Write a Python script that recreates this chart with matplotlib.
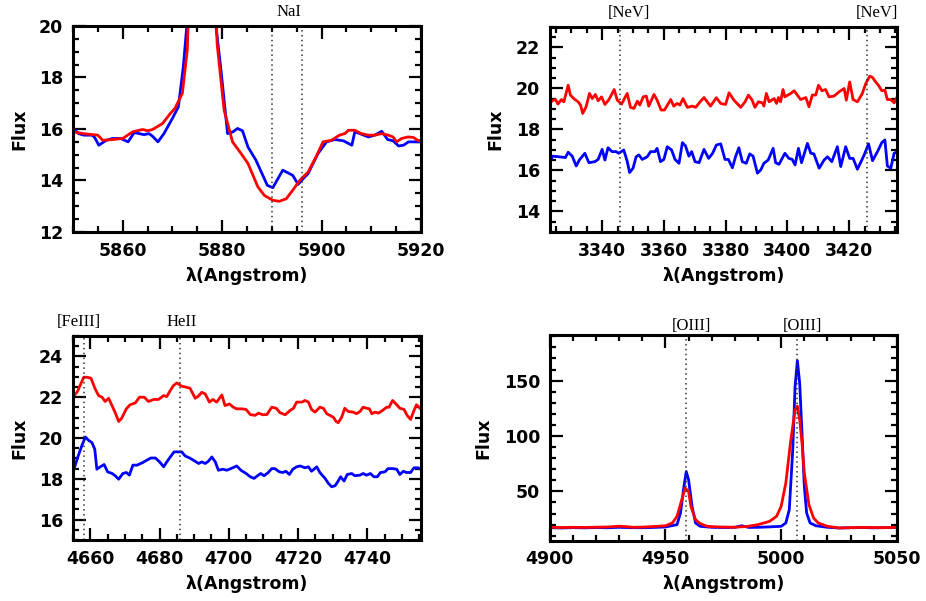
import matplotlib
matplotlib.use("Agg")
import matplotlib.pyplot as plt
from matplotlib.ticker import MultipleLocator

# ---- panel 1: NaI region ----
na_wave_red = [5850.1, 5852, 5854, 5855, 5856, 5858, 5860, 5862, 5864, 5865, 5866, 5868,
               5869.5, 5870.5, 5872, 5873, 5874, 5876, 5878, 5879, 5880.4, 5882.1, 5883.8,
               5885.2, 5887.2, 5888.5, 5890.2, 5891.5, 5892.9, 5894.2, 5895.6, 5897.3, 5898.9,
               5900.3, 5902, 5903.6, 5904.7, 5905.4, 5906.7, 5908, 5909.4, 5910.7, 5912.1,
               5913.4, 5914.4, 5915.1, 5916.1, 5917.4, 5918.5, 5919.5, 5920]
na_flux_red = [15.89, 15.82, 15.78, 15.76, 15.56, 15.59, 15.63, 15.89, 15.98, 15.93, 15.98, 16.21,
               16.58, 16.8, 17.38, 19.07, 26, 40, 25, 19.3, 16.73, 15.5, 15.05,
               14.66, 13.75, 13.42, 13.23, 13.19, 13.29, 13.62, 14.0, 14.33, 14.92,
               15.5, 15.56, 15.76, 15.82, 15.95, 15.95, 15.82, 15.76, 15.76, 15.82,
               15.76, 15.69, 15.5, 15.63, 15.69, 15.67, 15.54, 15.56]
na_wave_blue = [5850.1, 5851.1, 5852.2, 5853.8, 5854.3, 5855.2, 5856.7, 5857.9, 5859.6, 5861.1,
                5862.3, 5864.3, 5865.3, 5866, 5867.1, 5868.3, 5870, 5871.2, 5872.2, 5872.9,
                5874, 5876, 5878, 5878.75, 5879.7, 5881.1, 5882.2, 5883.1, 5884.1, 5885.2,
                5886.8, 5889.1, 5890.2, 5892.2, 5894.2, 5895.3, 5896.3, 5897.3, 5899.3, 5901,
                5902.7, 5904.4, 5906.1, 5906.7, 5907.7, 5909.4, 5910.7, 5912.1, 5913.3, 5914.4,
                5915.5, 5916.5, 5917.5, 5918.9, 5920]
na_flux_blue = [16.04, 15.82, 15.76, 15.76, 15.69, 15.37, 15.56, 15.63, 15.63, 15.5,
                15.86, 15.78, 15.82, 15.72, 15.5, 15.82, 16.41, 16.86, 18.42, 20.0,
                26, 40, 25, 20.0, 18.42, 15.82, 15.89, 16.02, 15.93, 15.3,
                14.79, 13.81, 13.72, 14.4, 14.2, 13.85, 14.07, 14.27, 15.05, 15.5,
                15.59, 15.54, 15.37, 15.89, 15.82, 15.69, 15.76, 15.91, 15.59, 15.54,
                15.34, 15.37, 15.5, 15.5, 15.5]

# ---- panel 2: [NeV] region ----
ne_wave_red = [3322.9, 3323.8, 3324.9, 3325.7, 3326.8, 3327.6, 3329.0, 3329.7, 3330.8, 3332.2,
               3333.0, 3333.7, 3334.8, 3335.9, 3336.8, 3337.8, 3338.7, 3339.8, 3340.9, 3342.2,
               3343.9, 3344.9, 3346.3, 3348.1, 3349.2, 3350.3, 3351.4, 3352.2, 3353.3, 3354.3,
               3355.1, 3356.8, 3357.8, 3359.1, 3360.2, 3362.2, 3363.2, 3364.3, 3365.2, 3366.2,
               3367.6, 3369.2, 3370.3, 3371.9, 3373.0, 3375.1, 3377.0, 3378.4, 3380.0, 3381.1,
               3382.7, 3384.9, 3386.3, 3387.4, 3388.6, 3389.5, 3390.6, 3391.9, 3392.4, 3393.2,
               3394.1, 3395.7, 3396.5, 3397.1, 3397.8, 3398.6, 3399.2, 3401.1, 3402.2, 3404.3,
               3406.0, 3407.0, 3408.1, 3409.2, 3410.1, 3411.2, 3412.4, 3413.5, 3415.1, 3416.8,
               3418.4, 3419.1, 3420.2, 3421.3, 3422.7, 3424.3, 3425.4, 3426.7, 3427.6, 3428.6,
               3429.5, 3430.6, 3431.6, 3432.4, 3433.5, 3434.6, 3435.7]
ne_flux_red = [19.24, 19.40, 19.46, 19.24, 19.46, 19.35, 20.16, 19.68, 19.51, 19.35,
               19.19, 18.78, 19.11, 19.76, 19.51, 19.71, 19.40, 19.59, 19.22, 19.46,
               19.95, 19.43, 19.24, 19.76, 19.08, 19.03, 19.38, 19.19, 19.59, 19.63,
               19.14, 19.71, 19.43, 18.95, 18.95, 19.46, 19.14, 19.27, 19.19, 19.51,
               19.08, 19.14, 19.08, 19.38, 19.56, 19.14, 19.55, 19.27, 19.22, 19.79,
               19.43, 19.08, 19.35, 19.68, 19.43, 19.08, 19.35, 19.30, 19.14, 19.76,
               19.35, 19.51, 19.27, 19.56, 19.35, 19.95, 19.59, 19.76, 19.89, 19.46,
               19.56, 19.11, 19.68, 19.68, 20.16, 19.89, 19.95, 19.59, 19.63, 19.84,
               20.0, 19.43, 20.32, 19.46, 19.35, 19.76, 20.24, 20.60, 20.54, 20.32,
               20.16, 19.89, 19.92, 19.46, 19.46, 19.30, 19.63]
ne_wave_blue = [3322.9, 3324.0, 3325.9, 3328.1, 3329.0, 3330.3, 3331.6, 3332.6, 3334.4, 3335.7,
                3337.6, 3338.7, 3340.0, 3340.9, 3341.9, 3343.2, 3344.5, 3345.4, 3347.0, 3348.1,
                3348.9, 3350.0, 3351.0, 3351.9, 3353.0, 3354.6, 3355.7, 3357.1, 3357.8, 3358.9,
                3360.0, 3361.1, 3362.5, 3363.6, 3364.9, 3366.0, 3367.0, 3368.1, 3369.0, 3370.1,
                3371.4, 3373.0, 3374.5, 3375.8, 3377.0, 3378.4, 3379.8, 3380.9, 3382.2, 3383.2,
                3384.3, 3385.4, 3386.7, 3387.8, 3388.9, 3390.3, 3391.4, 3392.4, 3393.8, 3395.4,
                3396.2, 3397.3, 3399.2, 3400.5, 3401.6, 3402.5, 3403.6, 3404.6, 3406.5, 3407.6,
                3408.6, 3410.3, 3411.9, 3413.0, 3414.4, 3416.2, 3417.3, 3418.9, 3420.2, 3421.3,
                3422.7, 3424.9, 3426.3, 3427.6, 3429.2, 3430.6, 3431.6, 3432.4, 3433.5, 3434.6,
                3435.7]
ne_flux_blue = [16.38, 16.70, 16.67, 16.63, 16.89, 16.70, 16.22, 16.51, 16.84, 16.38,
                16.43, 16.54, 17.03, 16.51, 17.11, 16.92, 16.92, 16.84, 17.0, 16.46,
                15.90, 16.11, 16.67, 16.76, 16.54, 16.67, 16.92, 16.92, 17.08, 16.43,
                16.54, 17.16, 17.0, 16.54, 16.35, 17.36, 17.2, 16.70, 16.92, 16.43,
                16.38, 17.03, 16.59, 16.84, 17.24, 17.30, 16.54, 16.54, 16.13, 16.67,
                17.11, 16.43, 16.35, 16.81, 16.70, 15.87, 16.03, 16.35, 16.51, 17.08,
                16.38, 16.30, 16.84, 16.59, 16.54, 16.27, 17.08, 16.38, 17.32, 16.84,
                16.81, 16.11, 16.51, 16.67, 16.43, 17.16, 16.19, 17.16, 16.59, 16.59,
                16.06, 16.76, 17.30, 16.48, 16.92, 17.36, 17.49, 16.22, 16.11, 16.84,
                16.92]

# ---- panel 3: [FeIII] / HeII region ----
he_wave_red = [4655.2, 4656.3, 4658.1, 4659.0, 4660.2, 4661.4, 4662.4, 4663.4, 4664.3, 4665.3,
               4666.7, 4667.2, 4668.2, 4669.1, 4670.4, 4671.5, 4673.0, 4674.2, 4675.6, 4676.8,
               4678.3, 4679.7, 4681.2, 4682.1, 4683.1, 4684.0, 4685.0, 4686.4, 4687.7, 4688.8,
               4690.3, 4691.2, 4692.2, 4693.2, 4694.4, 4695.4, 4696.5, 4698.0, 4698.9, 4700.2,
               4701.3, 4702.3, 4703.8, 4705.0, 4706.2, 4707.6, 4708.6, 4709.8, 4711.0, 4712.4,
               4713.7, 4714.8, 4716.3, 4717.7, 4718.7, 4719.6, 4721.1, 4722.0, 4723.0, 4723.9,
               4724.9, 4726.3, 4727.3, 4728.3, 4729.2, 4730.2, 4731.0, 4731.6, 4732.6, 4733.5,
               4734.5, 4735.9, 4736.9, 4737.9, 4738.8, 4739.8, 4740.6, 4741.3, 4742.2, 4743.2,
               4744.4, 4745.6, 4746.3, 4747.3, 4748.5, 4749.4, 4750.6, 4751.5, 4752.5, 4753.3,
               4754.2, 4755.4]
he_flux_red = [22.05, 22.28, 22.98, 22.98, 22.93, 22.41, 22.08, 22.0, 21.79, 21.95,
               21.43, 21.24, 20.81, 20.98, 21.43, 21.63, 21.72, 22.0, 22.0, 21.79,
               21.89, 21.89, 22.08, 22.03, 22.33, 22.57, 22.70, 22.54, 22.49, 22.44,
               21.95, 22.05, 22.24, 22.16, 21.76, 21.89, 21.76, 22.11, 21.59, 21.67,
               21.51, 21.43, 21.43, 21.40, 21.15, 21.11, 21.22, 21.14, 21.15, 21.51,
               21.46, 21.24, 21.14, 21.35, 21.46, 21.76, 21.76, 21.84, 21.76, 21.40,
               21.27, 21.51, 21.46, 21.19, 21.11, 21.02, 20.81, 20.75, 21.02, 21.46,
               21.30, 21.27, 21.19, 21.30, 21.51, 21.46, 21.43, 21.19, 21.27, 21.22,
               21.35, 21.51, 21.51, 21.84, 21.63, 21.46, 21.40, 21.11, 20.91, 21.27,
               21.63, 21.43]
he_wave_blue = [4655.2, 4656.3, 4657.6, 4658.6, 4659.5, 4660.5, 4661.3, 4661.9, 4662.9, 4664.0,
                4665.0, 4666.3, 4667.2, 4668.2, 4669.4, 4670.4, 4671.3, 4672.3, 4673.5, 4675.2,
                4676.3, 4677.5, 4678.8, 4680.0, 4681.2, 4682.1, 4683.1, 4684.2, 4685.5, 4686.4,
                4687.4, 4688.7, 4689.8, 4691.3, 4692.2, 4693.2, 4694.1, 4695.1, 4696.1, 4697.0,
                4698.3, 4699.4, 4700.6, 4702.3, 4703.5, 4705.0, 4706.2, 4707.3, 4708.3, 4709.2,
                4710.2, 4711.4, 4712.4, 4713.3, 4714.6, 4715.6, 4716.5, 4717.5, 4718.5, 4719.6,
                4720.6, 4722.0, 4723.0, 4723.9, 4725.4, 4726.3, 4727.8, 4728.8, 4729.7, 4730.7,
                4731.6, 4732.3, 4733.3, 4734.2, 4735.5, 4736.4, 4737.9, 4738.8, 4739.8, 4740.9,
                4741.9, 4742.9, 4743.8, 4745.1, 4746.0, 4747.3, 4748.5, 4749.4, 4750.4, 4751.3,
                4752.5, 4753.5, 4754.7, 4755.4]
he_flux_blue = [18.42, 19.02, 19.64, 20.05, 19.89, 19.77, 19.45, 18.47, 18.59, 18.70,
                18.34, 18.26, 18.15, 17.98, 18.26, 18.31, 18.18, 18.67, 18.67, 18.80,
                18.91, 19.02, 19.02, 18.83, 18.59, 18.83, 19.07, 19.32, 19.32, 19.32,
                19.12, 19.02, 18.91, 18.75, 18.83, 18.75, 18.86, 19.07, 18.83, 18.42,
                18.47, 18.42, 18.50, 18.63, 18.42, 18.26, 18.10, 18.02, 18.15, 18.26,
                18.15, 18.31, 18.50, 18.50, 18.34, 18.31, 18.37, 18.21, 18.47, 18.59,
                18.63, 18.54, 18.59, 18.37, 18.59, 18.31, 18.02, 17.77, 17.61, 17.66,
                17.89, 18.10, 17.89, 18.21, 18.26, 18.15, 18.18, 18.26, 18.18, 18.26,
                18.10, 18.10, 18.31, 18.34, 18.50, 18.50, 18.47, 18.21, 18.37, 18.31,
                18.31, 18.54, 18.54, 18.47]

# ---- panel 4: [OIII] region ----
o3_wave_red = [4900, 4905, 4910, 4915, 4920, 4925, 4930, 4933, 4936, 4940, 4945, 4950, 4953,
               4955, 4957, 4958.5, 4960, 4961, 4963, 4965, 4968, 4972, 4976, 4980, 4985, 4990,
               4995, 4998, 5000, 5002, 5004, 5006, 5007, 5008, 5009, 5010, 5012, 5014, 5016,
               5020, 5025, 5030, 5035, 5040, 5045, 5050]
o3_flux_red = [17.6, 17.4, 17.6, 17.5, 17.7, 17.9, 18.6, 18.2, 17.6, 17.8, 18.3, 19.0, 21.5,
               27.5, 42.0, 53.0, 50.0, 36.5, 24.5, 21.0, 18.5, 18.0, 17.8, 17.7, 18.3, 20.0,
               23.0, 27.5, 36.5, 57.5, 93.5, 123.6, 127.0, 114.6, 93.5, 66.5, 38.0, 26.0, 21.5,
               18.5, 17.0, 17.3, 17.5, 17.4, 17.3, 17.6]
o3_wave_blue = [4900, 4905, 4910, 4915, 4920, 4925, 4930, 4935, 4940, 4945, 4950, 4955,
                4956.5, 4958, 4959, 4960, 4961.5, 4963, 4965, 4970, 4975, 4980, 4983, 4986,
                4990, 4995, 5000, 5002, 5003.5, 5005, 5006, 5007, 5008, 5009, 5010, 5011,
                5012.5, 5015, 5020, 5025, 5030, 5035, 5040, 5045, 5050]
o3_flux_blue = [17.2, 17.0, 17.3, 17.1, 17.4, 17.2, 17.6, 17.3, 17.2, 17.5, 17.9, 20.0,
                30.5, 54.5, 68.0, 60.5, 36.5, 21.5, 18.5, 17.6, 17.4, 17.6, 19.0, 17.5,
                17.6, 18.0, 18.5, 21.5, 33.5, 87.5, 144.6, 168.0, 147.6, 102.5, 54.5, 30.5,
                21.5, 19.0, 17.6, 17.0, 17.2, 17.4, 17.1, 17.3, 17.4]

panels = [
    dict(pos=[0.0788, 0.614, 0.3758, 0.3428], xlim=(5850, 5920), ylim=(12, 20),
         xmaj=20, xmin=5, ymaj=2, ymin=0.5,
         red=(na_wave_red, na_flux_red), blue=(na_wave_blue, na_flux_blue),
         lines=[5890, 5896], labels=[(5893.5, "NaI")], lab_off=14),
    dict(pos=[0.5936, 0.614, 0.3750, 0.3411], xlim=(3323, 3435.5), ylim=(13, 23),
         xmaj=20, xmin=5, ymaj=2, ymin=0.5,
         red=(ne_wave_red, ne_flux_red), blue=(ne_wave_blue, ne_flux_blue),
         lines=[3345.8, 3425.8], labels=[(3348.6, "[NeV]"), (3429.0, "[NeV]")], lab_off=14),
    dict(pos=[0.0788, 0.1015, 0.3758, 0.3394], xlim=(4655, 4755.5), ylim=(15, 25),
         xmaj=20, xmin=5, ymaj=2, ymin=0.5,
         red=(he_wave_red, he_flux_red), blue=(he_wave_blue, he_flux_blue),
         lines=[4658.3, 4686.0], labels=[(4656.6, "[FeIII]"), (4686.5, "HeII")], lab_off=14),
    dict(pos=[0.5936, 0.1003, 0.3750, 0.3420], xlim=(4900, 5050), ylim=(5.5, 191),
         xmaj=50, xmin=10, ymaj=50, ymin=10,
         red=(o3_wave_red, o3_flux_red), blue=(o3_wave_blue, o3_flux_blue),
         lines=[4959.0, 5007.0], labels=[(4961.3, "[OIII]"), (5009.3, "[OIII]")], lab_off=9),
]

fig = plt.figure(figsize=(9.26, 6.01), dpi=100)
bold = dict(family="DejaVu Sans", weight="bold", size=12.5)

for p in panels:
    ax = fig.add_axes(p["pos"])
    ax.plot(*p["blue"], color="#0000ff", lw=2.0)
    ax.plot(*p["red"], color="#ff0000", lw=2.0)
    for x in p["lines"]:
        ax.axvline(x, color="#333333", ls=(0, (1, 2.2)), lw=1.1)
    for x, s in p["labels"]:
        ax.annotate(s, (x, 1), xycoords=("data", "axes fraction"),
                    xytext=(0, p["lab_off"]), textcoords="offset pixels",
                    ha="center", va="center", family="Liberation Serif", fontsize=12)
    ax.set_xlim(*p["xlim"])
    ax.set_ylim(*p["ylim"])
    ax.xaxis.set_major_locator(MultipleLocator(p["xmaj"]))
    ax.xaxis.set_minor_locator(MultipleLocator(p["xmin"]))
    ax.yaxis.set_major_locator(MultipleLocator(p["ymaj"]))
    ax.yaxis.set_minor_locator(MultipleLocator(p["ymin"]))
    ax.tick_params(which="both", direction="in", top=True, right=True, width=1.6)
    ax.tick_params(which="major", length=9, pad=7)
    ax.tick_params(which="minor", length=4.5)
    for sp in ax.spines.values():
        sp.set_linewidth(2.2)
    for lab in ax.get_xticklabels() + ax.get_yticklabels():
        lab.set_fontproperties(bold)
    ax.set_xlabel("λ(Angstrom)", labelpad=5, **bold)
    ax.set_ylabel("Flux", labelpad=8, **bold)

fig.savefig("out.png", dpi=100)
